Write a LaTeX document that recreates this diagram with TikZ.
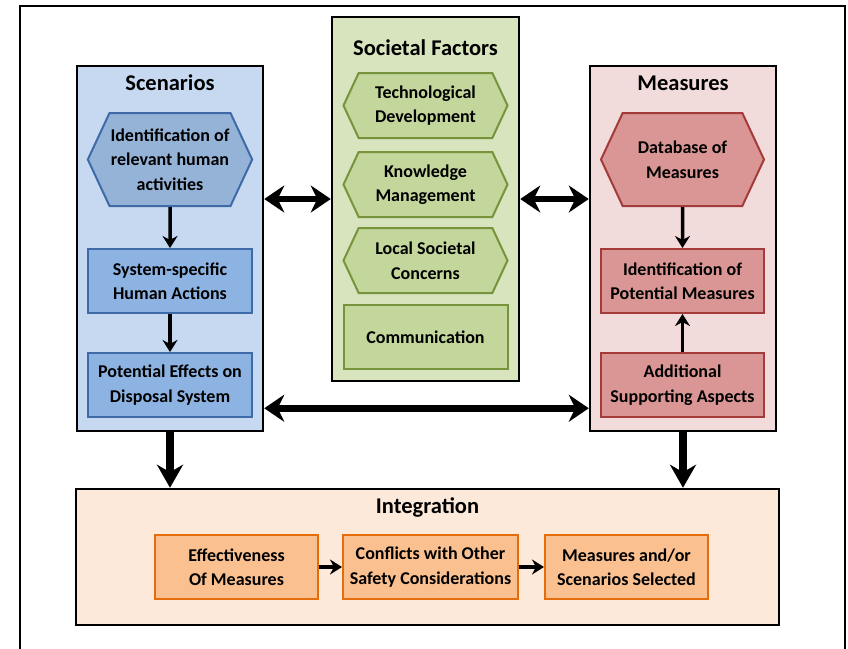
\documentclass[tikz,border=0pt]{standalone}
\usepackage{fontspec}
\setmainfont{Carlito}
\usetikzlibrary{shapes,arrows,positioning,arrows.meta,calc}

\definecolor{scenbg}{HTML}{C6D9F1}
\definecolor{scenfill}{HTML}{8DB3E2}
\definecolor{scenhexfill}{HTML}{95B3D7}
\definecolor{scenline}{HTML}{3F6AA8}
\definecolor{socbg}{HTML}{D7E4BD}
\definecolor{socfill}{HTML}{C3D69B}
\definecolor{socline}{HTML}{77933C}
\definecolor{measbg}{HTML}{F2DCDB}
\definecolor{measfill}{HTML}{D99694}
\definecolor{measline}{HTML}{A23B39}
\definecolor{intbg}{HTML}{FDE9D9}
\definecolor{intfill}{HTML}{FAC090}
\definecolor{intline}{HTML}{E46C0A}

\begin{document}
\begin{tikzpicture}[
    x=1pt, y=-1pt,
    every node/.style={font=\fontsize{18}{24.5}\selectfont\bfseries, align=center, inner sep=1pt},
    panel/.style={rectangle, draw=black, line width=2.5pt, minimum width=186pt, minimum height=365pt},
    ptitle/.style={font=\fontsize{22.5}{26}\selectfont\bfseries},
    hexa/.style={signal, signal from=nowhere, signal to=west and east, signal pointer angle=130, line width=2pt},
    scenhex/.style={hexa, draw=scenline, fill=scenhexfill, minimum width=164pt, minimum height=93pt},
    scenbox/.style={rectangle, draw=scenline, fill=scenfill, line width=2pt, minimum width=164pt, minimum height=64pt},
    sochex/.style={hexa, draw=socline, fill=socfill, minimum width=164pt, minimum height=65pt},
    socbox/.style={rectangle, draw=socline, fill=socfill, line width=2pt, minimum width=164pt, minimum height=64pt},
    meashex/.style={hexa, draw=measline, fill=measfill, minimum width=163pt, minimum height=93pt},
    measbox/.style={rectangle, draw=measline, fill=measfill, line width=2pt, minimum width=163pt, minimum height=64pt},
    intbox/.style={rectangle, draw=intline, fill=intfill, line width=2pt, minimum width=163pt, minimum height=64pt},
    thinarrow/.style={line width=3.5pt, -{Stealth[length=12pt, width=15pt]}},
    bigarrow/.style={line width=7.5pt, -{Stealth[length=23pt, width=26pt]}},
    bothways/.style={line width=6.5pt, {Stealth[length=20pt, width=27pt]}-{Stealth[length=20pt, width=27pt]}}
  ]
    \useasboundingbox (0,0) rectangle (848,648);
    \draw[line width=2.5pt] (20,670) -- (20,6) -- (845,6) -- (845,670);

    % panels
    \node[panel, fill=scenbg] (scen) at (170,248.5) {};
    \node[panel, fill=socbg, minimum width=187pt, minimum height=364pt] (soc) at (425.5,199) {};
    \node[panel, fill=measbg] (meas) at (683,248.5) {};
    \node[panel, fill=intbg, minimum width=703pt, minimum height=136pt] (integ) at (427.5,557) {};

    \node[ptitle] (scenT) at (170,83) {Scenarios};
    \node[ptitle] (socT) at (425.5,48) {Societal Factors};
    \node[ptitle] (measT) at (683,83) {Measures};
    \node[ptitle] (integT) at (427.5,507) {Integration};

    % scenarios
    \node[scenhex] (relAct) at (170,159.5) {Identification of\\relevant human\\activities};
    \node[scenbox, below=41pt of relAct] (sysAct) {System-specific\\Human Actions};
    \node[scenbox, below=38pt of sysAct] (potEff) {Potential Effects on\\Disposal System};

    % societal factors
    \node[sochex] (techDev) at (425.5,105.5) {Technological\\Development};
    \node[sochex, below=12pt of techDev] (knowMan) {Knowledge\\Management};
    \node[sochex, below=9pt of knowMan] (locSoc) {Local Societal\\Concerns};
    \node[socbox, below=10pt of locSoc] (comm) {Communication};

    % measures
    \node[meashex] (dbMeas) at (682.5,159.5) {Database of\\Measures};
    \node[measbox, below=41pt of dbMeas] (potMeas) {Identification of\\Potential Measures};
    \node[measbox, below=38pt of potMeas] (addAsp) {Additional\\Supporting Aspects};

    % integration
    \node[intbox] (effMeas) at (236.5,567) {Effectiveness\\Of Measures};
    \node[intbox, minimum width=175pt, right=23pt of effMeas] (conflicts) {Conflicts with Other\\Safety Considerations};
    \node[intbox, right=25pt of conflicts] (selected) {Measures and/or\\Scenarios Selected};

    \draw[thinarrow] (relAct) -- (sysAct);
    \draw[thinarrow] (sysAct) -- (potEff);
    \draw[thinarrow] (dbMeas) -- (potMeas);
    \draw[thinarrow] (addAsp) -- (potMeas);
    \draw[thinarrow] (effMeas) -- (conflicts);
    \draw[thinarrow] (conflicts) -- (selected);

    \draw[bothways] (scen.east |- soc.west) -- (soc.west);
    \draw[bothways] (soc.east) -- (meas.west |- soc.east);
    \draw[bothways] ([yshift=24pt]scen.south east) -- ([yshift=24pt]meas.south west);
    \draw[bigarrow] (scen.south) -- (scen.south |- integ.north);
    \draw[bigarrow] (meas.south) -- (meas.south |- integ.north);
  \end{tikzpicture}
\end{document}
